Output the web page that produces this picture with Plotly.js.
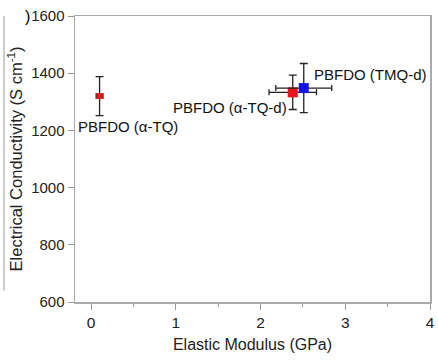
<!DOCTYPE html>
<html><head><meta charset="utf-8">
<script src="https://cdn.plot.ly/plotly-3.0.1.min.js"></script>
<style>body{margin:0;background:#fff}#chart{width:438px;height:360px}</style>
</head><body><div id="chart"></div>
<script>
const labels = ["PBFDO (α-TQ)", "PBFDO (α-TQ-d)", "PBFDO (TMQ-d)"];
const modulus = [0.10, 2.38, 2.51];
const modulusErr = [0.04, 0.28, 0.33];
const conductivity = [1320, 1333, 1348];
const conductivityErr = [68, 60, 86];
const colors = ["#e8141c", "#e8141c", "#1414e8"];

const traces = labels.map((name, i) => ({
  type: "scatter", mode: "markers", name: name,
  x: [modulus[i]], y: [conductivity[i]],
  marker: {symbol: "square", size: i === 0 ? 6 : 10, color: colors[i]},
  error_x: {type: "data", array: [modulusErr[i]], color: "#222", thickness: 1.3, width: 3},
  error_y: {type: "data", array: [conductivityErr[i]], color: "#222", thickness: 1.3, width: 4},
  showlegend: false
}));

const anchors = ["left", "right", "left"];
const offs = [[-24, 30], [-4, 15], [8, -14]];
const annotations = labels.map((t, i) => ({
  x: modulus[i], y: conductivity[i], xref: "x", yref: "y", text: t, showarrow: false,
  xanchor: anchors[i], yanchor: "middle", xshift: offs[i][0], yshift: -offs[i][1],
  font: {family: "Liberation Sans, Arial, sans-serif", size: 15, color: "#111"}
}));
annotations.push({xref: "paper", yref: "paper", x: -0.135, y: 1.0, text: ")", showarrow: false,
  font: {family: "Liberation Sans, Arial, sans-serif", size: 16, color: "#000"}, xanchor: "center", yanchor: "middle"});

const layout = {
  width: 438, height: 360,
  margin: {l: 75, r: 8, t: 16, b: 58},
  paper_bgcolor: "#fff", plot_bgcolor: "#fff",
  font: {family: "Liberation Sans, Arial, sans-serif", size: 15, color: "#222"},
  xaxis: {
    range: [-0.19, 4], tickvals: [0, 1, 2, 3, 4], ticks: "outside", ticklen: 6, tickcolor: "#999",
    tickfont: {size: 15.5},
    minor: {tickvals: [0.5, 1.5, 2.5, 3.5], ticks: "outside", ticklen: 3, tickcolor: "#999"},
    showline: true, linecolor: "#aaa", linewidth: 1.5, mirror: true, showgrid: false, zeroline: false,
    title: {text: "Elastic Modulus (GPa)", font: {size: 16}, standoff: 8}
  },
  yaxis: {
    range: [600, 1600], dtick: 200, ticks: "outside", ticklen: 6, tickcolor: "#999",
    tickfont: {size: 15},
    showline: true, linecolor: "#aaa", linewidth: 1.5, mirror: true, showgrid: false, zeroline: false,
    title: {text: "Electrical Conductivity (S cm<sup>-1</sup>)", font: {size: 16.5}, standoff: 4}
  },
  shapes: [{type: "line", xref: "paper", yref: "paper", x0: -0.2, x1: -0.2, y0: 0.04, y1: 1.0,
    line: {color: "#999", width: 1}}],
  annotations: annotations
};
Plotly.newPlot("chart", traces, layout, {displayModeBar: false, staticPlot: true});
</script></body></html>
